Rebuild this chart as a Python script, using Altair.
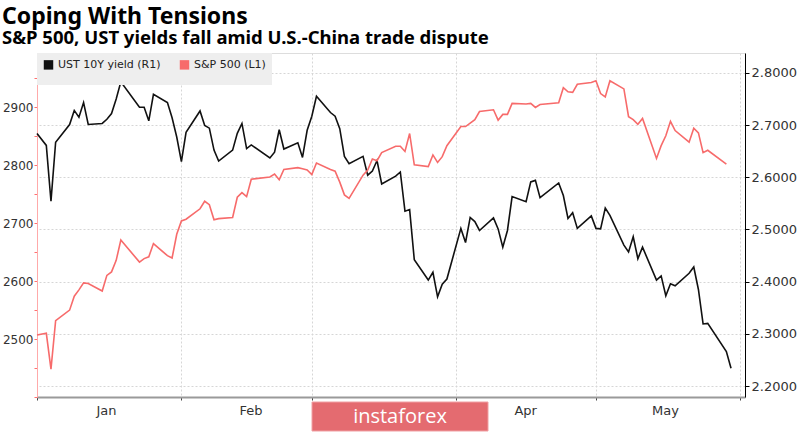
import altair as alt
import pandas as pd

# ---- data ----
dates = [
    "2018-12-31",
    "2019-01-02", "2019-01-03", "2019-01-04", "2019-01-07", "2019-01-08", "2019-01-09", "2019-01-10",
    "2019-01-11", "2019-01-14", "2019-01-15", "2019-01-16", "2019-01-17", "2019-01-18", "2019-01-22",
    "2019-01-23", "2019-01-24", "2019-01-25", "2019-01-28", "2019-01-29", "2019-01-30", "2019-01-31",
    "2019-02-01", "2019-02-04", "2019-02-05", "2019-02-06", "2019-02-07", "2019-02-08", "2019-02-11",
    "2019-02-12", "2019-02-13", "2019-02-14", "2019-02-15", "2019-02-19", "2019-02-20", "2019-02-21",
    "2019-02-22", "2019-02-25", "2019-02-26", "2019-02-27", "2019-02-28",
    "2019-03-01", "2019-03-04", "2019-03-05", "2019-03-06", "2019-03-07", "2019-03-08", "2019-03-11",
    "2019-03-12", "2019-03-13", "2019-03-14", "2019-03-15", "2019-03-18", "2019-03-19", "2019-03-20",
    "2019-03-21", "2019-03-22", "2019-03-25", "2019-03-26", "2019-03-27", "2019-03-28", "2019-03-29",
    "2019-04-01", "2019-04-02", "2019-04-03", "2019-04-04", "2019-04-05", "2019-04-08", "2019-04-09",
    "2019-04-10", "2019-04-11", "2019-04-12", "2019-04-15", "2019-04-16", "2019-04-17", "2019-04-18",
    "2019-04-22", "2019-04-23", "2019-04-24", "2019-04-25", "2019-04-26", "2019-04-29", "2019-04-30",
    "2019-05-01", "2019-05-02", "2019-05-03", "2019-05-06", "2019-05-07", "2019-05-08", "2019-05-09",
    "2019-05-10", "2019-05-13", "2019-05-14", "2019-05-15", "2019-05-16", "2019-05-17", "2019-05-20",
    "2019-05-21", "2019-05-22", "2019-05-23", "2019-05-24", "2019-05-28", "2019-05-29",
]

spx = [
    2507,
    2510, 2448, 2532, 2550, 2574, 2585, 2597, 2596, 2583, 2610, 2616, 2636, 2671, 2633,
    2639, 2642, 2665, 2644, 2640, 2681, 2704,
    2707, 2725, 2738, 2732, 2706, 2708, 2710, 2745, 2753, 2746, 2776, 2780, 2785, 2775,
    2793, 2796, 2794, 2792, 2784,
    2804, 2793, 2790, 2771, 2749, 2743, 2783, 2792, 2811, 2808, 2822, 2833, 2833, 2824,
    2855, 2801, 2798, 2818, 2805, 2815, 2834,
    2867, 2867, 2873, 2879, 2893, 2896, 2878, 2888, 2888, 2907, 2906, 2907, 2900, 2905,
    2908, 2934, 2927, 2926, 2940, 2943, 2946,
    2924, 2918, 2946, 2932, 2884, 2879, 2871, 2881, 2812, 2834, 2851, 2876, 2860, 2840,
    2864, 2856, 2822, 2826, 2802,
]

ust = [
    2.684,
    2.661, 2.554, 2.667, 2.701, 2.728, 2.715, 2.743, 2.701, 2.703, 2.711, 2.722, 2.750, 2.783, 2.734,
    2.734, 2.708, 2.759, 2.743, 2.714, 2.677, 2.630,
    2.686, 2.727, 2.699, 2.694, 2.652, 2.631, 2.652, 2.684, 2.703, 2.655, 2.662, 2.637, 2.648, 2.691,
    2.654, 2.666, 2.638, 2.690, 2.717,
    2.755, 2.724, 2.717, 2.693, 2.640, 2.626, 2.640, 2.604, 2.612, 2.632, 2.587, 2.602, 2.610, 2.535,
    2.538, 2.442, 2.403, 2.418, 2.371, 2.395, 2.405,
    2.502, 2.475, 2.523, 2.515, 2.498, 2.522, 2.501, 2.466, 2.498, 2.563, 2.553, 2.591, 2.594, 2.561,
    2.589, 2.565, 2.521, 2.532, 2.502, 2.526, 2.502,
    2.501, 2.541, 2.527, 2.470, 2.457, 2.486, 2.444, 2.466, 2.403, 2.411, 2.373, 2.396, 2.392, 2.416,
    2.428, 2.385, 2.319, 2.320, 2.266, 2.234,
]

series_names = ["UST 10Y yield (R1)", "S&P 500 (L1)"]
series_colors = ["#111111", "#f76b6b"]

month_ends = [(2018, 12, 31), (2019, 1, 31), (2019, 2, 28), (2019, 3, 31), (2019, 4, 30), (2019, 5, 31)]
left_ticks = [2400, 2450, 2500, 2550, 2600, 2650, 2700, 2750, 2800, 2850, 2900, 2950]
right_ticks = [2.2, 2.3, 2.4, 2.5, 2.6, 2.7, 2.8]

title_text = "Coping With Tensions"
subtitle_text = "S&P 500, UST yields fall amid U.S.-China trade dispute"
watermark = "instaforex"

df_ust = pd.DataFrame({"date": dates, "value": ust, "series": series_names[0]})
df_spx = pd.DataFrame({"date": dates[: len(spx)], "value": spx, "series": series_names[1]})

FONT = "DejaVu Sans"

x_scale = alt.Scale(
    type="utc",
    domain=[alt.DateTime(year=2018, month=12, date=31, utc=True),
            alt.DateTime(year=2019, month=6, date=1, utc=True)],
)
# month names centred between month-end ticks; March is hidden under the watermark band
x_axis = alt.Axis(
    title=None,
    values=[alt.DateTime(year=y, month=m, date=d, utc=True) for (y, m, d) in month_ends],
    labelExpr="(utcmonth(datum.value) == 4 || utcmonth(datum.value) == 1) ? '' : utcFormat(datum.value + 86400000, '%b')",
    labelOffset=69,
    labelFlush=False,
    labelPadding=4,
    labelFont=FONT,
    labelFontSize=13,
    labelColor="#333333",
    grid=True,
    gridDash=[2, 2],
    gridColor="#d6d6d6",
    domainColor="#9a9a9a",
    domainWidth=2,
    tickColor="#444444",
    tickSize=3,
)

color_enc = alt.Color(
    "series:N",
    scale=alt.Scale(domain=series_names, range=series_colors),
    legend=alt.Legend(
        title=None,
        orient="top-left",
        direction="horizontal",
        offset=0,
        padding=6,
        fillColor="#eeeeee",
        symbolType="square",
        symbolSize=12,
        symbolStrokeWidth=6,
        labelFont=FONT,
        labelFontSize=11,
        labelColor="#222222",
        columnPadding=9,
        labelLimit=300,
    ),
)

ust_line = alt.Chart(df_ust).mark_line(strokeWidth=1.6).encode(
    x=alt.X("date:T", scale=x_scale, axis=x_axis),
    y=alt.Y(
        "value:Q",
        scale=alt.Scale(domain=[2.179, 2.838], nice=False, zero=False),
        axis=alt.Axis(
            orient="right",
            title=None,
            values=right_ticks,
            format=".4f",
            labelFont=FONT,
            labelFontSize=13,
            labelColor="#333333",
            labelPadding=2,
            grid=True,
            gridDash=[2, 2],
            gridColor="#d6d6d6",
            domainColor="#000000",
            tickColor="#000000",
            tickSize=4,
        ),
    ),
    color=color_enc,
)

spx_line = alt.Chart(df_spx).mark_line(strokeWidth=1.6).encode(
    x=alt.X("date:T", scale=x_scale, axis=x_axis),
    y=alt.Y(
        "value:Q",
        scale=alt.Scale(domain=[2400, 2994], nice=False, zero=False),
        axis=alt.Axis(
            orient="left",
            title=None,
            values=left_ticks,
            format="d",
            labelExpr="datum.value % 100 == 0 && datum.value >= 2500 ? datum.label : ''",
            labelFont=FONT,
            labelFontSize=12,
            labelColor="#333333",
            labelPadding=1,
            grid=False,
            domainColor="#ffaaaa",
            tickColor="#ff7070",
            tickSize=3,
        ),
    ),
    color=color_enc,
)

wm_df = pd.DataFrame({"label": [watermark]})
wm_box = alt.Chart(wm_df).mark_rect(color="#e46b70", stroke="#f0a0a3", strokeWidth=1).encode(
    x=alt.value(275), x2=alt.value(451), y=alt.value(349), y2=alt.value(378)
)
wm_text = alt.Chart(wm_df).mark_text(
    font="Open Sans", fontSize=20, color="white", align="center", baseline="alphabetic"
).encode(x=alt.value(363), y=alt.value(370), text="label:N")

chart = (
    alt.layer(ust_line, spx_line, wm_box, wm_text)
    .resolve_scale(y="independent")
    .properties(
        width=708,
        height=344,
        autosize=alt.AutoSizeParams(type="none"),
        padding={"left": 37, "top": 53, "right": 55, "bottom": 35},
        title=alt.TitleParams(
            title_text,
            subtitle=subtitle_text,
            anchor="start",
            frame="group",
            dx=-35,
            offset=6,
            font="Noto Sans",
            fontSize=23,
            fontWeight="bold",
            color="#000000",
            subtitleFont="Noto Sans",
            subtitleFontSize=18.5,
            subtitleFontWeight="bold",
            subtitleColor="#000000",
            subtitlePadding=0,
        ),
    )
    .configure_view(stroke=None)
    .configure(background="white")
)

chart.save("out.html", embed_options={"renderer": "svg", "actions": False})
